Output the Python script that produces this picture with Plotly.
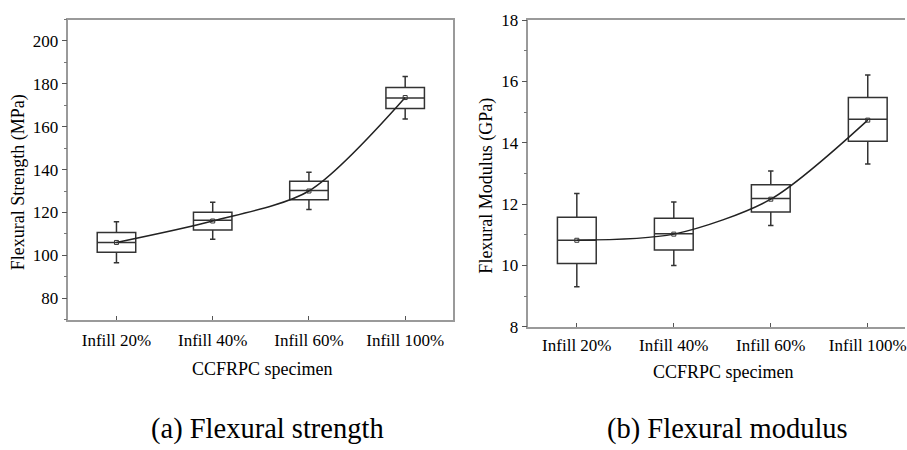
import plotly.graph_objects as go

categories = ["Infill 20%", "Infill 40%", "Infill 60%", "Infill 100%"]
positions = [0, 1, 2, 3]

strength_low = [96.5, 107.5, 121.4, 163.6]
strength_q1 = [101.4, 111.8, 125.9, 168.5]
strength_median = [106.0, 116.4, 130.2, 173.4]
strength_q3 = [110.7, 120.1, 134.5, 178.3]
strength_high = [115.6, 124.7, 138.8, 183.4]
strength_mean = [106.0, 116.0, 130.0, 173.6]

modulus_low = [9.30, 10.00, 11.30, 13.31]
modulus_q1 = [10.06, 10.50, 11.74, 14.05]
modulus_median = [10.82, 11.03, 12.18, 14.77]
modulus_q3 = [11.57, 11.54, 12.63, 15.48]
modulus_high = [12.35, 12.07, 13.08, 16.21]
modulus_mean = [10.82, 11.02, 12.16, 14.74]

BOX_C = "#333333"
AX_C = "#9a9a9a"
SERIF = "Liberation Serif"

fig = go.Figure()

def add_panel(xa, ya, low, q1, med, q3, high, mean):
    fig.add_trace(go.Box(
        x=positions, q1=q1, median=med, q3=q3, lowerfence=low, upperfence=high,
        width=0.4, whiskerwidth=0.14, boxpoints=False,
        line=dict(color=BOX_C, width=1.5), fillcolor="rgba(0,0,0,0)",
        xaxis=xa, yaxis=ya, showlegend=False, hoverinfo="skip"))
    fig.add_trace(go.Scatter(
        x=positions, y=mean, mode="lines+markers",
        line=dict(color="#222222", width=1.5, shape="spline", smoothing=0.8),
        marker=dict(symbol="square-open", size=4, color="#333333", line=dict(width=1)),
        xaxis=xa, yaxis=ya, showlegend=False, hoverinfo="skip"))

add_panel("x", "y", strength_low, strength_q1, strength_median, strength_q3, strength_high, strength_mean)
add_panel("x2", "y2", modulus_low, modulus_q1, modulus_median, modulus_q3, modulus_high, modulus_mean)

tick_font = dict(family=SERIF, size=17, color="#000000")

def xaxis_cfg(domain, rng, standoff, anchor):
    return dict(domain=domain, range=rng, tickmode="array", tickvals=positions,
                ticktext=categories, ticks="inside", ticklen=4, tickcolor="#555555",
                tickwidth=1, showline=True, linecolor=AX_C, linewidth=1.5, mirror=True,
                showgrid=False, zeroline=False, tickfont=tick_font,
                ticklabelstandoff=standoff, ticklabeloverflow="allow", anchor=anchor)

def yaxis_cfg(domain, rng, dtick, mdtick, mirror, anchor):
    return dict(domain=domain, range=rng, tickmode="linear", tick0=0, dtick=dtick,
                ticks="outside", ticklen=5, tickcolor="#555555", tickwidth=1,
                minor=dict(ticks="outside", ticklen=3, dtick=mdtick, tick0=0,
                           tickcolor="#777777", tickwidth=1),
                showline=True, linecolor=AX_C, linewidth=1.5, mirror=mirror,
                showgrid=False, zeroline=False, tickfont=tick_font, anchor=anchor)

fig.update_layout(
    width=907, height=450, margin=dict(l=0, r=0, t=0, b=0),
    paper_bgcolor="white", plot_bgcolor="white",
    xaxis=xaxis_cfg([68.5/907, 454.3/907], [-0.5, 3.5], 4, "y"),
    yaxis=yaxis_cfg([1-324.3/450, 1-11/450], [70, 210], 20, 10, True, "x"),
    xaxis2=xaxis_cfg([529.5/907, 1.0], [-0.5, 3.384], 2, "y2"),
    yaxis2=yaxis_cfg([1-331.7/450, 1-11.7/450], [8, 18], 2, 1, False, "x2"),
)

title_font = dict(family=SERIF, size=18, color="#000000")
cap_font = dict(family=SERIF, size=28.5, color="#000000")
annots = [
    dict(text="Flexural Strength (MPa)", x=18/907, y=1-181/450, textangle=-90, font=title_font),
    dict(text="CCFRPC specimen", x=263/907, y=1-376/450, font=title_font),
    dict(text="Flexural Modulus (GPa)", x=488/907, y=1-184.5/450, textangle=-90, font=title_font),
    dict(text="CCFRPC specimen", x=725.5/907, y=1-379/450, font=title_font),
    dict(text="(a) Flexural strength", x=268/907, y=1-439/450, font=cap_font),
    dict(text="(b) Flexural modulus", x=729/907, y=1-438/450, font=cap_font),
]
for a in annots:
    fig.add_annotation(xref="paper", yref="paper", showarrow=False,
                       xanchor="center", yanchor="middle", **a)

fig.write_html("out.html")
